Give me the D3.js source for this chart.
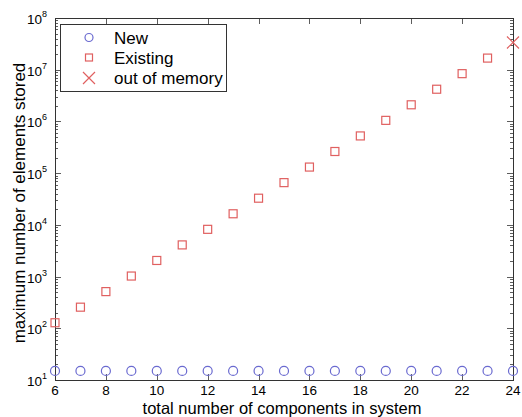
<!DOCTYPE html>
<html>
<head>
<meta charset="utf-8">
<script src="https://cdn.jsdelivr.net/npm/d3@7"></script>
<style>
body { margin: 0; background: #fff; }
text { font-family: "Liberation Sans", Arial, sans-serif; }
</style>
</head>
<body>
<div id="chart"></div>
<script>
// values
var components = [6, 7, 8, 9, 10, 11, 12, 13, 14, 15, 16, 17, 18, 19, 20, 21, 22, 23, 24];
var newStored = [15, 15, 15, 15, 15, 15, 15, 15, 15, 15, 15, 15, 15, 15, 15, 15, 15, 15, 15];
var existingN = [6, 7, 8, 9, 10, 11, 12, 13, 14, 15, 16, 17, 18, 19, 20, 21, 22, 23];
var existingStored = [128, 256, 512, 1024, 2048, 4096, 8192, 16384, 32768, 65536, 131072,
  262144, 524288, 1048576, 2097152, 4194304, 8388608, 16777216];
var oomN = [24];
var oomStored = [33554432];
var xTicks = [6, 8, 10, 12, 14, 16, 18, 20, 22, 24];
var yExps = [1, 2, 3, 4, 5, 6, 7, 8];
var legendLabels = ["New", "Existing", "out of memory"];

var W = 522, H = 417;
var m = {left: 55, right: 9, top: 18, bottom: 37};
var blue = "#6a6ad0", red = "#e06060";

var svg = d3.select("#chart").append("svg")
	.attr("width", W)
	.attr("height", H);

var x = d3.scaleLinear().domain([6, 24]).range([m.left, W - m.right]);
var y = d3.scaleLog().domain([10, 1e8]).range([H - m.bottom, m.top]);

var x0 = m.left, x1 = W - m.right, y0 = H - m.bottom, y1 = m.top;

// minor log ticks
var minor = [];
yExps.slice(0, -1).forEach(function (e) {
	for (var k = 2; k <= 9; k++) minor.push(k * Math.pow(10, e));
});

var g = svg.append("g").attr("stroke", "#333").attr("stroke-width", 0.8);

g.selectAll(".ymin").data(minor).enter().append("path")
	.attr("d", function (d) {
		var yy = Math.round(y(d)) + 0.5;
		return "M" + x0 + "," + yy + "h3M" + x1 + "," + yy + "h-3";
	});
g.selectAll(".ymaj").data(yExps).enter().append("path")
	.attr("d", function (d) {
		var yy = Math.round(y(Math.pow(10, d))) + 0.5;
		return "M" + x0 + "," + yy + "h6M" + x1 + "," + yy + "h-6";
	});
g.selectAll(".xt").data(xTicks).enter().append("path")
	.attr("d", function (d) {
		var xx = Math.round(x(d)) + 0.5;
		return "M" + xx + "," + y0 + "v-6M" + xx + "," + y1 + "v6";
	});
svg.append("rect")
	.attr("x", x0 + 0.5).attr("y", y1 + 0.5)
	.attr("width", x1 - x0).attr("height", y0 - y1)
	.attr("fill", "none").attr("stroke", "#333").attr("stroke-width", 1);

// tick labels
svg.selectAll(".xl").data(xTicks).enter().append("text")
	.attr("x", function (d) { return x(d); })
	.attr("y", y0 + 15)
	.attr("text-anchor", "middle")
	.attr("font-size", 13.5)
	.text(function (d) { return d; });

var yl = svg.selectAll(".yl").data(yExps).enter().append("text")
	.attr("x", x0 - 8)
	.attr("y", function (d) { return y(Math.pow(10, d)) + 6; })
	.attr("text-anchor", "end")
	.attr("font-size", 13.5);
yl.append("tspan").text("10");
yl.append("tspan").attr("font-size", 9).attr("dy", -7).text(function (d) { return d; });

// axis titles
svg.append("text")
	.attr("x", 282).attr("y", 414)
	.attr("text-anchor", "middle").attr("font-size", 16.5)
	.text("total number of components in system");
svg.append("text")
	.attr("transform", "translate(25,203) rotate(-90)")
	.attr("text-anchor", "middle").attr("font-size", 17)
	.text("maximum number of elements stored");

// data
svg.selectAll(".new").data(components).enter().append("circle")
	.attr("cx", function (d) { return x(d); })
	.attr("cy", function (d, i) { return y(newStored[i]); })
	.attr("r", 4.5)
	.attr("fill", "none").attr("stroke", blue).attr("stroke-width", 1.2);

svg.selectAll(".ex").data(existingN).enter().append("rect")
	.attr("x", function (d) { return x(d) - 4; })
	.attr("y", function (d, i) { return y(existingStored[i]) - 4; })
	.attr("width", 8).attr("height", 8)
	.attr("fill", "none").attr("stroke", red).attr("stroke-width", 1.2);

svg.selectAll(".oom").data(oomN).enter().append("path")
	.attr("transform", function (d, i) { return "translate(" + x(d) + "," + y(oomStored[i]) + ")"; })
	.attr("d", "M-6,-6L6,6M-6,6L6,-6")
	.attr("stroke", red).attr("stroke-width", 1.2);

// legend
var lg = svg.append("g").attr("transform", "translate(60,24)");
lg.append("rect").attr("x", 0.5).attr("y", 0.5).attr("width", 166).attr("height", 67)
	.attr("fill", "#fff").attr("stroke", "#333").attr("stroke-width", 1);
lg.selectAll(".lt").data(legendLabels).enter().append("text")
	.attr("x", 54)
	.attr("y", function (d, i) { return 19.5 + i * 20; })
	.attr("font-size", 17)
	.text(function (d) { return d; });
lg.append("circle").attr("cx", 29).attr("cy", 13.5).attr("r", 4)
	.attr("fill", "none").attr("stroke", blue).attr("stroke-width", 1.2);
lg.append("rect").attr("x", 25.5).attr("y", 30).attr("width", 7).attr("height", 7)
	.attr("fill", "none").attr("stroke", red).attr("stroke-width", 1.2);
lg.append("path").attr("d", "M23,48L35,60M23,60L35,48")
	.attr("stroke", red).attr("stroke-width", 1.2);
</script>
</body>
</html>
